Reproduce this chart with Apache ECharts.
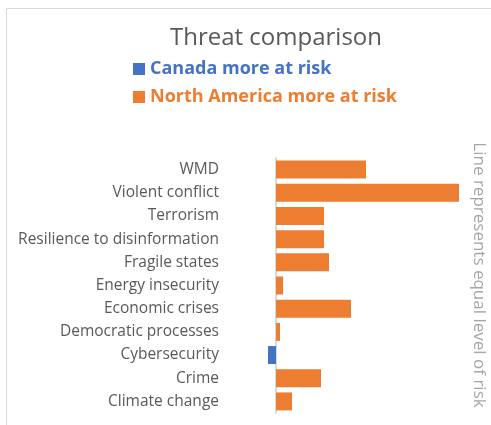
<!DOCTYPE html>
<html>
<head>
<meta charset="utf-8">
<script src="https://cdn.jsdelivr.net/npm/echarts@6/dist/echarts.min.js"></script>
<style>
  html, body { margin: 0; padding: 0; background: #ffffff; }
  #chart { width: 491px; height: 425px; }
</style>
</head>
<body>
<div id="chart"></div>
<script>
// Threat categories, top to bottom
const categories = [
  'WMD', 'Violent conflict', 'Terrorism', 'Resilience to disinformation',
  'Fragile states', 'Energy insecurity', 'Economic crises',
  'Democratic processes', 'Cybersecurity', 'Crime', 'Climate change'
];
// Risk difference: negative = Canada more at risk, positive = North America more at risk
const canadaMore = [null, null, null, null, null, null, null, null, -0.08, null, null];
const northAmericaMore = [0.90, 1.83, 0.48, 0.48, 0.53, 0.07, 0.75, 0.04, null, 0.45, 0.16];

const BLUE = '#4472c4';
const ORANGE = '#ed7d31';
const FONT = 'Open Sans';

const chart = echarts.init(document.getElementById('chart'));
chart.setOption({
  animation: false,
  backgroundColor: '#ffffff',
  title: {
    text: 'Threat comparison',
    left: 271, textAlign: 'center', top: 21,
    textStyle: { fontFamily: FONT, fontSize: 24, fontWeight: 'normal', color: '#595959' }
  },
  legend: {
    orient: 'vertical', left: 128, top: 55,
    itemWidth: 12, itemHeight: 12, itemGap: 10, icon: 'rect',
    textStyle: { fontFamily: FONT, fontSize: 18, fontWeight: 'bold' },
    data: [
      { name: 'Canada more at risk', textStyle: { color: BLUE } },
      { name: 'North America more at risk', textStyle: { color: ORANGE } }
    ]
  },
  grid: { left: 256, width: 220, top: 158, height: 255, containLabel: false },
  xAxis: {
    type: 'value', min: -0.2, max: 2.0,
    show: false
  },
  yAxis: {
    type: 'category', data: categories, inverse: true,
    axisLine: { onZero: true, lineStyle: { color: '#d9d9d9', width: 2 } },
    axisTick: { show: false },
    axisLabel: { margin: 37, fontFamily: FONT, fontSize: 15.5, color: '#595959' }
  },
  graphic: [
    {
      type: 'rect', silent: true,
      shape: { x: 6.5, y: 8.5, width: 600, height: 600 },
      style: { fill: 'none', stroke: '#d9d9d9', lineWidth: 1 }
    },
    {
      type: 'text', silent: true,
      x: 479, y: 275, rotation: -Math.PI / 2,
      style: {
        text: 'Line represents equal level of risk',
        fontFamily: FONT, fontSize: 17, fill: '#a6a6a6',
        align: 'center', verticalAlign: 'middle'
      }
    }
  ],
  series: [
    {
      name: 'Canada more at risk', type: 'bar', stack: 'risk',
      data: canadaMore, barWidth: 18, itemStyle: { color: BLUE }
    },
    {
      name: 'North America more at risk', type: 'bar', stack: 'risk',
      data: northAmericaMore, barWidth: 18, itemStyle: { color: ORANGE }
    }
  ]
});
</script>
</body>
</html>
